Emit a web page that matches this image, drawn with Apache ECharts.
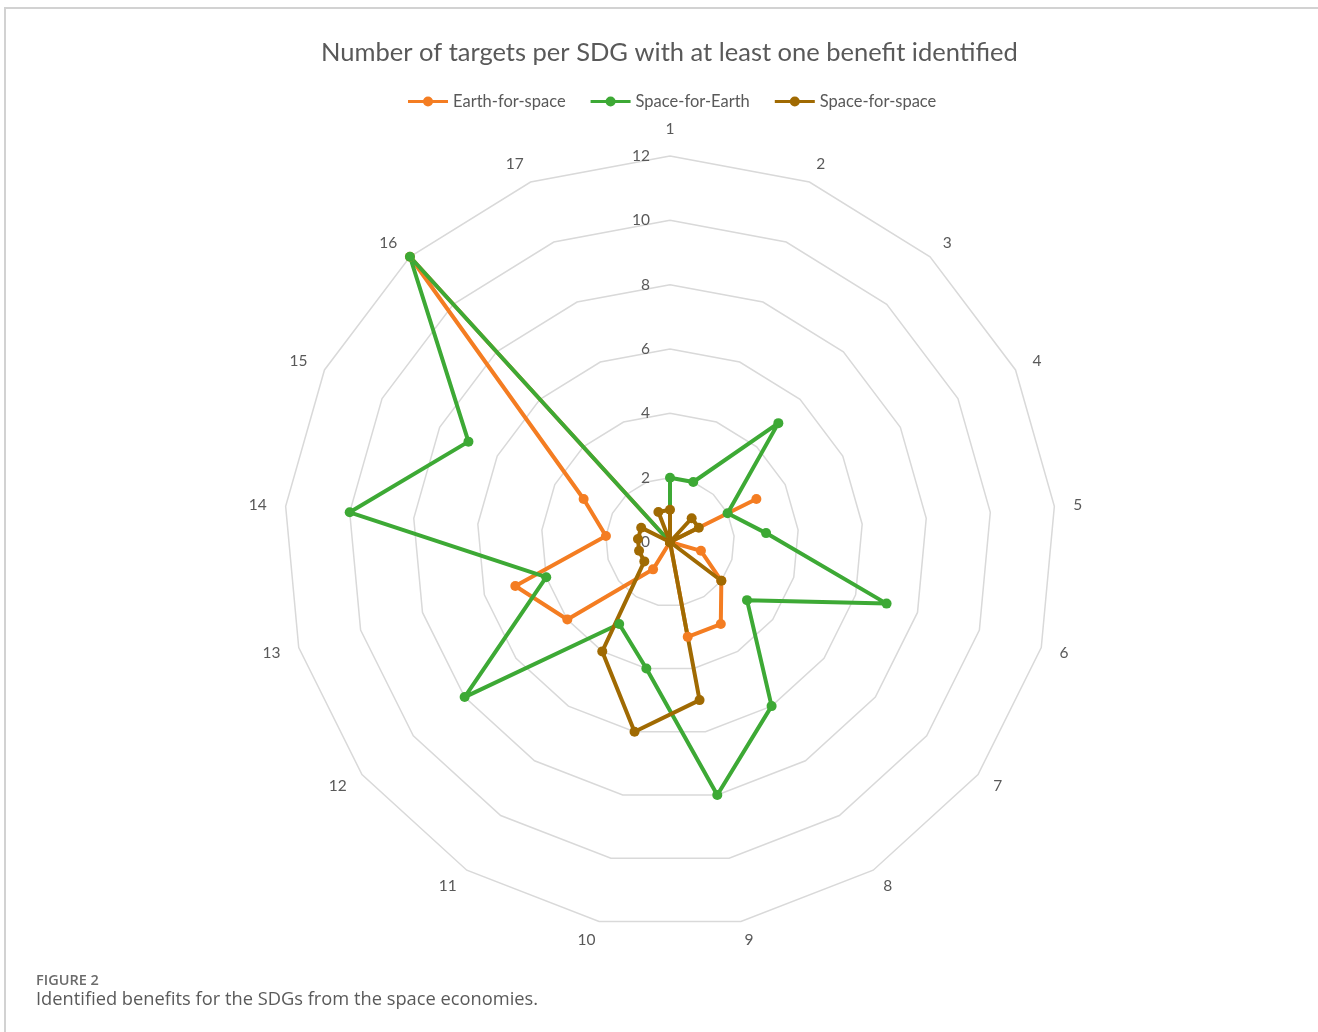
<!DOCTYPE html>
<html>
<head>
<meta charset="utf-8">
<title>Number of targets per SDG with at least one benefit identified</title>
<script src="https://cdn.jsdelivr.net/npm/echarts@6/dist/echarts.min.js"></script>
<style>
  html, body { margin: 0; padding: 0; background: #ffffff; }
  #frame {
    position: absolute; left: 4px; top: 7px; right: 0; bottom: 0;
    border-top: 2px solid #d2d2d2; border-left: 2px solid #d2d2d2;
  }
  #chart { position: absolute; left: 0; top: 0; width: 1318px; height: 1032px; }
</style>
</head>
<body>
<div id="frame"></div>
<div id="chart"></div>
<script>
// SDG numbers (axes, clockwise from the top)
const categories = ['1', '2', '3', '4', '5', '6', '7', '8', '9', '10', '11', '12', '13', '14', '15', '16', '17'];

// Number of targets per SDG with at least one benefit identified
const earthForSpace = [0, 0, 0, 3, 0, 1, 2, 3, 3, 0, 1, 4, 5, 2, 3, 12, 0];
const spaceForEarth = [2, 2, 5, 2, 3, 7, 3, 6, 8, 4, 3, 8, 4, 10, 7, 12, 0];
const spaceForSpace = [1, 0, 1, 1, 0, 0, 2, 0, 5, 6, 4, 1, 1, 1, 1, 0, 1];

const seriesNames = ['Earth-for-space', 'Space-for-Earth', 'Space-for-space'];
const seriesColors = ['#F47D22', '#3DA935', '#A06A02'];
const axisMax = 12;

// ECharts lays radar indicators out counter-clockwise; walk the SDGs in
// reverse after the first so that they read clockwise.
const order = [0];
for (let i = categories.length - 1; i >= 1; i--) order.push(i);
const reorder = arr => order.map(i => arr[i]);

const indicators = order.map((i, k) => {
  const ind = { name: categories[i], max: axisMax, min: 0 };
  if (k === 0) ind.axisLabel = { show: true };
  return ind;
});

const seriesValues = [earthForSpace, spaceForEarth, spaceForSpace];
const textColor = '#595959';

// Legend marker: a short line with a dot in the middle
const lineDotIcon = 'path://M0,3.6h40v2.8H0z M25,5a5,5 0 1,1 -10,0a5,5 0 1,1 10,0z';

const chart = echarts.init(document.getElementById('chart'), null, { renderer: 'canvas' });
chart.setOption({
  animation: false,
  color: seriesColors,
  title: [
    {
      text: 'Number of targets per SDG with at least one benefit identified',
      left: 316,
      top: 35,
      textStyle: { fontFamily: 'Lato', fontSize: 25.5, fontWeight: 'normal', color: textColor }
    },
    {
      text: 'FIGURE 2',
      left: 31,
      top: 968,
      textStyle: { fontFamily: 'Open Sans', fontSize: 14.5, fontWeight: 600, color: '#6b6b6b' }
    },
    {
      text: 'Identified benefits for the SDGs from the space economies.',
      left: 31,
      top: 986,
      textStyle: { fontFamily: 'Open Sans', fontSize: 18.3, fontWeight: 'normal', color: '#5a5a5a' }
    }
  ],
  legend: {
    top: 88,
    left: 403,
    itemWidth: 40,
    itemHeight: 10,
    itemGap: 25,
    data: seriesNames.map(name => ({ name: name, icon: lineDotIcon })),
    textStyle: { fontFamily: 'Lato', fontSize: 16.5, color: textColor }
  },
  radar: {
    center: [670, 542],
    radius: 386,
    startAngle: 90,
    shape: 'polygon',
    splitNumber: 6,
    indicator: indicators,
    axisName: { fontFamily: 'Lato', fontSize: 15.5, color: textColor },
    nameGap: 19,
    axisLine: { show: false },
    axisTick: { show: false },
    axisLabel: { show: false, fontFamily: 'Lato', fontSize: 15.5, color: textColor, margin: 20 },
    splitLine: { lineStyle: { color: '#d9d9d9', width: 1.5 } },
    splitArea: { show: false }
  },
  series: [{
    type: 'radar',
    symbol: 'circle',
    symbolSize: 10,
    data: seriesNames.map((name, s) => ({
      name: name,
      value: reorder(seriesValues[s]),
      lineStyle: { color: seriesColors[s], width: 4 },
      itemStyle: { color: seriesColors[s] }
    }))
  }]
});
</script>
</body>
</html>
